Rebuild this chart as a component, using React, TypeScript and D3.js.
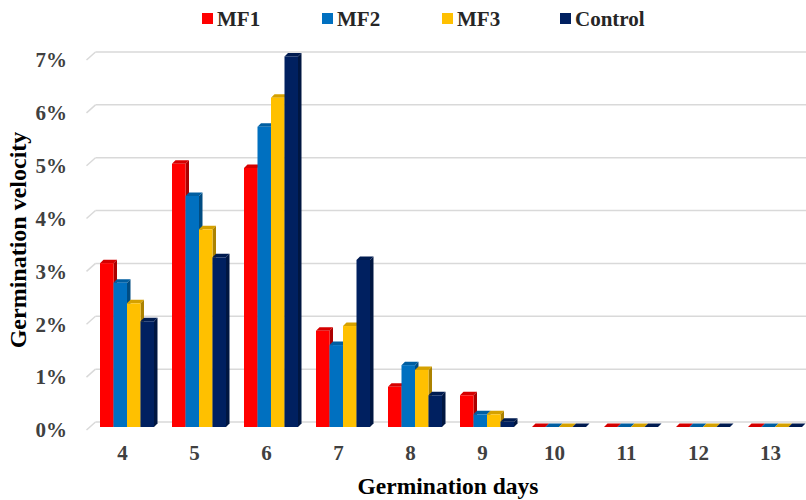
import React from "react";
import * as d3 from "d3";

const days = ["4", "5", "6", "7", "8", "9", "10", "11", "12", "13"];
const seriesNames = ["MF1", "MF2", "MF3", "Control"];
const mf1 = [3.1, 4.98, 4.9, 1.82, 0.76, 0.6, 0, 0, 0, 0];
const mf2 = [2.73, 4.37, 5.68, 1.55, 1.17, 0.24, 0, 0, 0, 0];
const mf3 = [2.34, 3.74, 6.23, 1.91, 1.08, 0.24, 0, 0, 0, 0];
const control = [2.0, 3.21, 7.01, 3.16, 0.6, 0.1, 0, 0, 0, 0];
const yTicks = [0, 1, 2, 3, 4, 5, 6, 7];
const colors = ["#ff0000", "#0070c0", "#ffc000", "#002060"];

const W = 806;
const H = 500;

export default function App() {
  const values = [mf1, mf2, mf3, control];
  const unit = 52.86;
  const yBack = d3.scaleLinear().domain([0, 7]).range([422, 422 - 7 * unit]);
  const yBar = d3.scaleLinear().domain([0, 7]).range([427, 427 - 7 * unit]);
  const x = d3.scaleBand<string>().domain(days).range([91, 811]).paddingInner(0.25).paddingOuter(0.125);
  const xs = d3.scaleBand<string>().domain(seriesNames).range([0, x.bandwidth()]);
  const d = 3.5;
  const wallDx = 9;
  const wallDy = 8;
  const backX0 = 95.5;
  const font = "'Liberation Serif', 'Times New Roman', serif";

  const bars: React.ReactNode[] = [];
  days.forEach((day, i) => {
    seriesNames.forEach((s, j) => {
      const v = values[j][i];
      const x0 = (x(day) as number) + (xs(s) as number);
      const w = xs.bandwidth();
      const yt = yBar(v);
      const yb = yBar(0);
      const base = d3.color(colors[j]) as d3.RGBColor;
      const top = base.darker(0.5).formatHex();
      const side = base.darker(1.1).formatHex();
      bars.push(
        <g key={`${day}-${s}`}>
          <polygon
            points={`${x0 + w},${yt} ${x0 + w + d},${yt - d} ${x0 + w + d},${yb - d} ${x0 + w},${yb}`}
            fill={side}
          />
          <polygon
            points={`${x0},${yt} ${x0 + d},${yt - d} ${x0 + w + d},${yt - d} ${x0 + w},${yt}`}
            fill={top}
          />
          {v > 0 && <rect x={x0} y={yt} width={w} height={yb - yt} fill={colors[j]} />}
        </g>
      );
    });
  });

  const legendX = [202, 322, 442, 560];

  return (
    <svg width={W} height={H} style={{ position: "absolute", left: 0, top: 0, background: "#fff" }}>
      <rect x={0} y={0} width={W} height={H} fill="#fff" />
      {yTicks.map((t) => (
        <g key={t}>
          <line x1={backX0} x2={W} y1={yBack(t)} y2={yBack(t)} stroke="#d9d9d9" strokeWidth={1.5} />
          <line
            x1={backX0 - wallDx}
            y1={yBack(t) + wallDy}
            x2={backX0}
            y2={yBack(t)}
            stroke="#d9d9d9"
            strokeWidth={1.5}
          />
        </g>
      ))}
      {bars}
      {yTicks.map((t) => (
        <text
          key={t}
          x={67}
          y={yBack(t) + wallDy}
          dy="0.35em"
          textAnchor="end"
          fontFamily={font}
          fontWeight="bold"
          fontSize={21}
          fill="#404040"
        >
          {t}%
        </text>
      ))}
      {days.map((day) => (
        <text
          key={day}
          x={(x(day) as number) + x.bandwidth() / 2 - 4.5}
          y={453}
          dy="0.35em"
          textAnchor="middle"
          fontFamily={font}
          fontWeight="bold"
          fontSize={21}
          fill="#404040"
        >
          {day}
        </text>
      ))}
      <text x={448} y={494} textAnchor="middle" fontFamily={font} fontWeight="bold" fontSize={23.5} fill="#000">
        Germination days
      </text>
      <text
        transform="translate(18,240) rotate(-90)"
        dy="0.35em"
        textAnchor="middle"
        fontFamily={font}
        fontWeight="bold"
        fontSize={24}
        fill="#000"
      >
        Germination velocity
      </text>
      {seriesNames.map((s, j) => (
        <g key={s}>
          <rect x={legendX[j]} y={13} width={11} height={11} fill={colors[j]} />
          <text x={legendX[j] + 15} y={25.5} fontFamily={font} fontWeight="bold" fontSize={21} fill="#262626">
            {s}
          </text>
        </g>
      ))}
    </svg>
  );
}
